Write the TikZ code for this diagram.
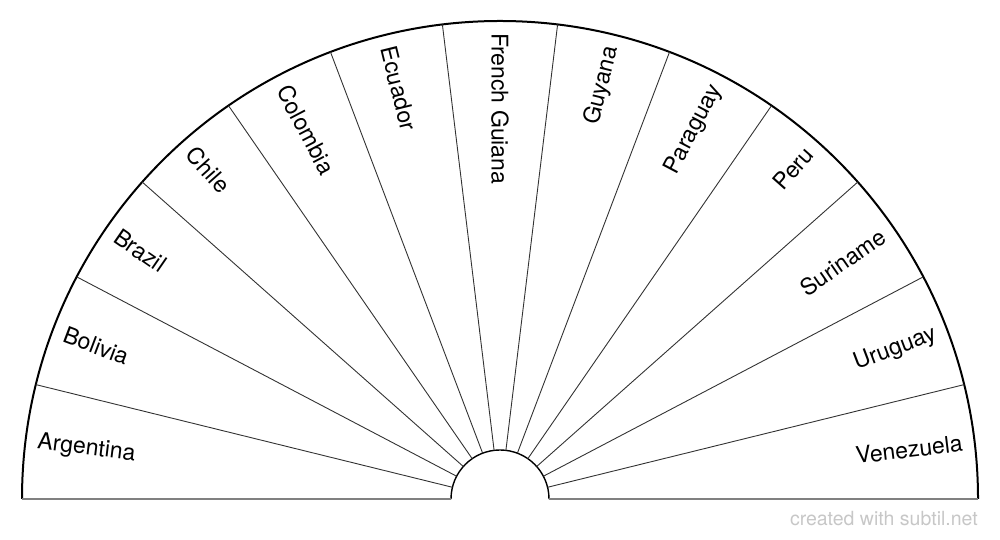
\documentclass[tikz,border=0pt]{standalone}
\usepackage{fontspec}
\setmainfont{TeX Gyre Heros}

\tikzstyle{rim}=[draw,line width=2pt,black]
\tikzstyle{hub}=[draw,line width=1.4pt,black]
\tikzstyle{spoke}=[draw,line width=0.9pt,black!80]
\tikzstyle{base}=[draw,line width=2pt,black!50]
\tikzstyle{country}=[inner sep=0pt,font=\fontsize{23}{27}\selectfont]
\tikzstyle{credit}=[inner sep=0pt,anchor=base east,text=black!22,font=\fontsize{19.5}{23}\selectfont]

\begin{document}
\begin{tikzpicture}[x=1pt,y=1pt]
			\useasboundingbox (0,0) rectangle (1000,540);
			\coordinate (o) at (500,41);
			% First we draw the rim, the hub and the base line
			\path[rim] ([shift={(0:478)}]o) arc (0:180:478);
			\path[hub] ([shift={(0:49)}]o) arc (0:180:49);
			\path[base] ([shift={(180:478)}]o) -- ([shift={(180:49)}]o);
			\path[base] ([shift={(0:49)}]o) -- ([shift={(0:478)}]o);
			% Spokes between the sectors
			\foreach \k [evaluate=\k as \ang using \k*180/13] in {1,...,12}
				\path[spoke] ([shift={(\ang:49)}]o) -- ([shift={(\ang:478)}]o);
			% Labels on the left read inwards
			\foreach \name/\k [evaluate=\k as \ang using 180-(\k-0.5)*180/13] in {Argentina/1, Bolivia/2, Brazil/3, Chile/4, Colombia/5, Ecuador/6, French Guiana/7}
				\node[country,anchor=west,rotate=\ang-180] (c\k) at ([shift={(\ang:466)}]o) {\name};
			% Labels on the right read outwards
			\foreach \name/\k [evaluate=\k as \ang using 180-(\k-0.5)*180/13] in {Guyana/8, Paraguay/9, Peru/10, Suriname/11, Uruguay/12, Venezuela/13}
				\node[country,anchor=east,rotate=\ang] (c\k) at ([shift={(\ang:466)}]o) {\name};
			\node[credit] (mark) at (978,14) {created with subtil.net};
		\end{tikzpicture}
\end{document}
